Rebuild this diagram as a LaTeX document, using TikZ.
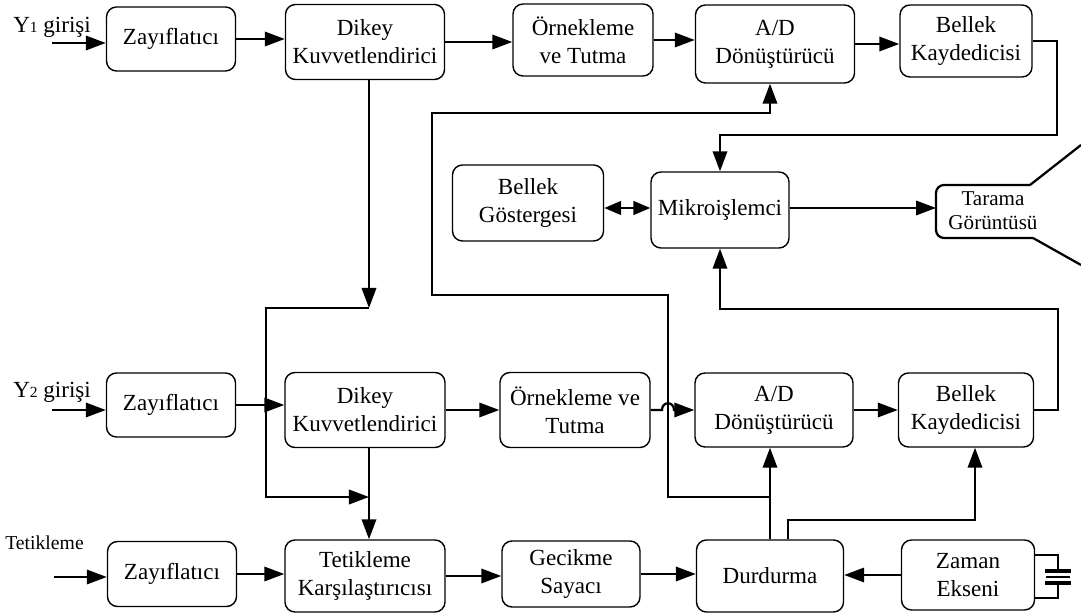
\documentclass[tikz,border=0pt]{standalone}
\usepackage{fontspec}
\setmainfont{Liberation Serif}
\usetikzlibrary{arrows.meta, positioning, calc}

\begin{document}
\begin{tikzpicture}[
    x=0.025cm, y=-0.025cm,
    block/.style={draw, rounded corners=0.25cm, line width=1pt, align=center, inner sep=2pt, font=\fontsize{16.4}{19.8}\selectfont},
    flow/.style={line width=1.6pt, -{Triangle[length=0.5cm, width=0.36cm]}},
    twoway/.style={line width=1.6pt, {Triangle[length=0.42cm, width=0.34cm]}-{Triangle[length=0.42cm, width=0.34cm]}},
    wire/.style={line width=1.6pt},
    tag/.style={font=\fontsize{16.4}{19.8}\selectfont, inner sep=0pt, anchor=base west},
    smalltag/.style={font=\fontsize{15}{16.8}\selectfont, inner sep=0pt, align=center},
]
\useasboundingbox (0,0) rectangle (1081,615);

% Y1 channel
\node[block, minimum width=3.225cm, minimum height=1.6cm] (zay1) at (171,39) {Zayıflatıcı};
\node[block, minimum width=3.975cm, minimum height=1.875cm] (dikey1) at (365,42) {Dikey\\Kuvvetlendirici};
\node[block, minimum width=3.5cm, minimum height=1.8cm] (orn1) at (583,40) {Örnekleme\\ve Tutma};
\node[block, minimum width=3.975cm, minimum height=1.95cm] (ad1) at (775,44) {A/D\\Dönüştürücü};
\node[block, minimum width=3.3cm, minimum height=1.8cm] (bellek1) at (966,41) {Bellek\\Kaydedicisi};

% Memory / display
\node[block, minimum width=3.775cm, minimum height=1.9cm] (bgost) at (528,203) {Bellek\\Göstergesi};
\node[block, minimum width=3.45cm, minimum height=1.9cm] (mikro) at (720,210) {Mikroişlemci};
\node[smalltag] (tarama) at (993,211) {Tarama\\Görüntüsü};
\coordinate (ekran) at (936,208);

% Y2 channel
\node[block, minimum width=3.225cm, minimum height=1.6cm] (zay2) at (171,405) {Zayıflatıcı};
\node[block, minimum width=4cm, minimum height=1.875cm] (dikey2) at (365,410) {Dikey\\Kuvvetlendirici};
\node[block, minimum width=3.75cm, minimum height=1.875cm] (orn2) at (575,410) {Örnekleme ve\\Tutma};
\node[block, minimum width=3.95cm, minimum height=1.85cm] (ad2) at (774,410) {A/D\\Dönüştürücü};
\node[block, minimum width=3.375cm, minimum height=1.85cm] (bellek2) at (966,410) {Bellek\\Kaydedicisi};

% Trigger channel
\node[block, minimum width=3.225cm, minimum height=1.625cm] (zay3) at (172,574) {Zayıflatıcı};
\node[block, minimum width=4cm, minimum height=1.8cm] (tetk) at (365,576) {Tetikleme\\Karşılaştırıcısı};
\node[block, minimum width=3.45cm, minimum height=1.65cm] (gecikme) at (571,574) {Gecikme\\Sayacı};
\node[block, minimum width=3.675cm, minimum height=1.8cm] (durdurma) at (770,576) {Durdurma};
\node[block, minimum width=3.325cm, minimum height=1.75cm] (zaman) at (968,575) {Zaman\\Ekseni};

% Inputs
\node[tag] (y1lbl) at (13,33) {Y{\fontsize{11}{11}\selectfont 1} girişi};
\node[tag] (y2lbl) at (13,398) {Y{\fontsize{11}{11}\selectfont 2} girişi};
\node[smalltag, anchor=base west, font=\fontsize{14}{16}\selectfont] (tetlbl) at (5,550) {Tetikleme};
\coordinate (y1in) at (52,43);
\coordinate (y2in) at (52,410);
\coordinate (tetin) at (54,577);
\draw[flow] (y1in) -- (y1in -| zay1.west);
\draw[flow] (y2in) -- (y2in -| zay2.west);
\draw[flow] (tetin) -- (tetin -| zay3.west);

% Edges, Y1 row
\draw[flow] (zay1.east) -- (zay1.east -| dikey1.west);
\draw[flow] (dikey1.east) -- (dikey1.east -| orn1.west);
\draw[flow] (orn1.east) -- (orn1.east -| ad1.west);
\draw[flow] (ad1.east) -- (ad1.east -| bellek1.west);
\draw[flow] (bellek1.east) -| (1057,135) -| (mikro.north);

% Edges, Y2 row
\draw[flow] (zay2.east) -- (zay2.east -| dikey2.west);
\draw[flow] (dikey2.east) -- (dikey2.east -| orn2.west);
\draw[flow] (orn2.east) -- (662,410) .. controls (662,401) and (674,401) .. (674,410) -- (ad2.west);
\draw[flow] (ad2.east) -- (ad2.east -| bellek2.west);
\draw[flow] (bellek2.east) -| (1058,309) -| (mikro.south);

% Edges, trigger row
\draw[flow] (zay3.east) -- (zay3.east -| tetk.west);
\draw[flow] (tetk.east) -- (tetk.east -| gecikme.west);
\draw[flow] (gecikme.east) -- (gecikme.east -| durdurma.west);
\draw[flow] (zaman.west) -- (zaman.west -| durdurma.east);

% Trigger source
\coordinate (split) at (369,308);
\draw[flow] (369,0 |- dikey1.south) -- (split);
\draw[flow] (split) -| (266,497) -- (369,497);
\draw[flow] (369,0 |- dikey2.south) -- (369,0 |- tetk.north);

% Stop lines
\coordinate (sync) at (770,497);
\draw[flow] (durdurma.north) -- (durdurma.north |- ad2.south);
\draw[flow] (sync) -- (668,497) -- (668,295) -- (432,295) -- (432,113) -- (770,113) -- (770,0 |- ad1.south);
\draw[flow] (788,0 |- durdurma.north) -- (788,520) -| (975,0 |- bellek2.south);

% Memory and display
\draw[twoway] (bgost.east |- 0,208) -- (mikro.west |- 0,208);
\draw[flow] (mikro.east |- ekran) -- (ekran);
\draw[wire, rounded corners=0.2cm] (1030,185) -- (936,185) -- (936,238) -- (1033,238);
\draw[wire] (1030,185) -- (1081,145);
\draw[wire] (1033,238) -- (1081,265);

% Battery
\draw[line width=1.1pt] (zaman.east |- 0,555) -- (1058,555) -- (1058,571);
\draw[line width=2.4pt] (1045,571) -- (1071,571);
\draw[line width=1.4pt] (1046,577) -- (1070,577);
\draw[line width=2.4pt] (1045,583) -- (1071,583);
\draw[line width=1.1pt] (1058,583) -- (1058,598) -- (zaman.east |- 0,598);

\end{tikzpicture}
\end{document}
